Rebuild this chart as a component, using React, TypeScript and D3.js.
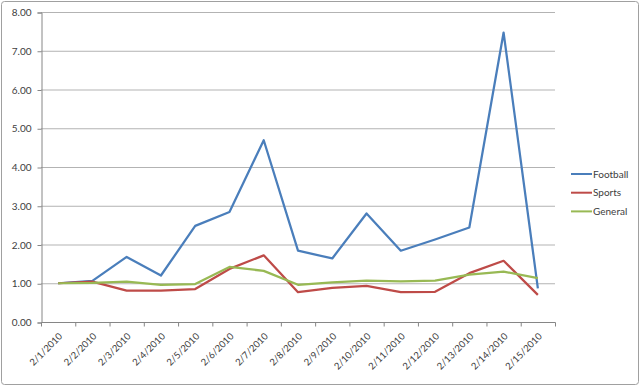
import React, { useRef, useEffect } from 'react';
import * as d3 from 'd3';

const dates = [
  '2/1/2010', '2/2/2010', '2/3/2010', '2/4/2010', '2/5/2010', '2/6/2010', '2/7/2010', '2/8/2010',
  '2/9/2010', '2/10/2010', '2/11/2010', '2/12/2010', '2/13/2010', '2/14/2010', '2/15/2010',
];
const football = [1.0, 1.06, 1.68, 1.2, 2.48, 2.84, 4.69, 1.84, 1.64, 2.8, 1.84, 2.13, 2.44, 7.47, 0.87];
const sports = [1.0, 1.04, 0.81, 0.81, 0.85, 1.37, 1.72, 0.77, 0.88, 0.93, 0.77, 0.78, 1.26, 1.58, 0.7];
const general = [1.0, 1.01, 1.04, 0.96, 0.98, 1.42, 1.32, 0.96, 1.02, 1.07, 1.05, 1.07, 1.22, 1.3, 1.13];
const yTicks = [0, 1, 2, 3, 4, 5, 6, 7, 8];

const series = [
  { name: 'Football', values: football, color: '#4a7ebb' },
  { name: 'Sports', values: sports, color: '#be4b48' },
  { name: 'General', values: general, color: '#98b954' },
];

const App = () => {
  const svgRef = useRef(null);

  useEffect(() => {
    const width = 640;
    const height = 386;
    const left = 41, right = 555, top = 12, bottom = 322;
    const font = 'Lato, "Open Sans", sans-serif';

    const svg = d3.select(svgRef.current);
    svg.selectAll('*').remove();

    // chart border
    svg.append('rect')
      .attr('x', 1.5).attr('y', 1.5)
      .attr('width', width - 3).attr('height', height - 3)
      .attr('rx', 3)
      .attr('fill', '#fff')
      .attr('stroke', '#a0a0a0');

    const x = d3.scaleBand().domain(dates).range([left, right]);
    const y = d3.scaleLinear().domain([0, 8]).range([bottom, top]);

    // gridlines
    svg.append('g')
      .selectAll('line')
      .data(yTicks.slice(1))
      .join('line')
      .attr('x1', left).attr('x2', right)
      .attr('y1', d => y(d) + 0.5).attr('y2', d => y(d) + 0.5)
      .attr('stroke', '#b3b3b3')
      .attr('stroke-width', 1);

    // y axis
    const yAxis = svg.append('g')
      .attr('transform', `translate(${left + 0.5},0.5)`)
      .call(d3.axisLeft(y).tickValues(yTicks).tickFormat(d3.format('.2f')).tickSize(4).tickPadding(6));
    yAxis.select('.domain').attr('stroke', '#868686');
    yAxis.selectAll('.tick line').attr('stroke', '#868686');
    yAxis.selectAll('.tick text')
      .attr('fill', '#404040')
      .style('font-family', font)
      .style('font-size', '10px');

    // x axis
    const xAxis = svg.append('g')
      .attr('transform', `translate(0.5,${bottom + 0.5})`);
    xAxis.append('line')
      .attr('x1', left).attr('x2', right)
      .attr('stroke', '#868686');
    xAxis.selectAll('line.tk')
      .data(dates.concat(['end']))
      .join('line')
      .attr('class', 'tk')
      .attr('x1', (d, i) => i < dates.length ? x(d) : right)
      .attr('x2', (d, i) => i < dates.length ? x(d) : right)
      .attr('y1', 0).attr('y2', 4)
      .attr('stroke', '#868686');
    xAxis.selectAll('text')
      .data(dates)
      .join('text')
      .attr('transform', d => `translate(${x(d) + x.bandwidth() / 2 + 2},${12}) rotate(-45)`)
      .attr('text-anchor', 'end')
      .attr('dy', '0.35em')
      .attr('fill', '#404040')
      .style('font-family', font)
      .style('font-size', '9.5px')
      .text(d => d);

    // lines
    const line = d3.line()
      .x((d, i) => x(dates[i]) + x.bandwidth() / 2)
      .y(d => y(d));

    svg.append('g')
      .selectAll('path')
      .data(series)
      .join('path')
      .attr('d', d => line(d.values))
      .attr('fill', 'none')
      .attr('stroke', d => d.color)
      .attr('stroke-width', 2.25)
      .attr('stroke-linejoin', 'round');

    // legend
    const legend = svg.append('g')
      .selectAll('g')
      .data(series)
      .join('g')
      .attr('transform', (d, i) => `translate(571,${174 + i * 18.7})`);
    legend.append('line')
      .attr('x1', 0).attr('x2', 21)
      .attr('stroke', d => d.color)
      .attr('stroke-width', 2);
    legend.append('text')
      .attr('x', 22)
      .attr('dy', '0.35em')
      .attr('fill', '#404040')
      .style('font-family', font)
      .style('font-size', '10px')
      .text(d => d.name);
  }, []);

  return (
    <svg ref={svgRef} width={640} height={386} style={{ position: 'absolute', left: 0, top: 0 }} />
  );
};

export default App;
